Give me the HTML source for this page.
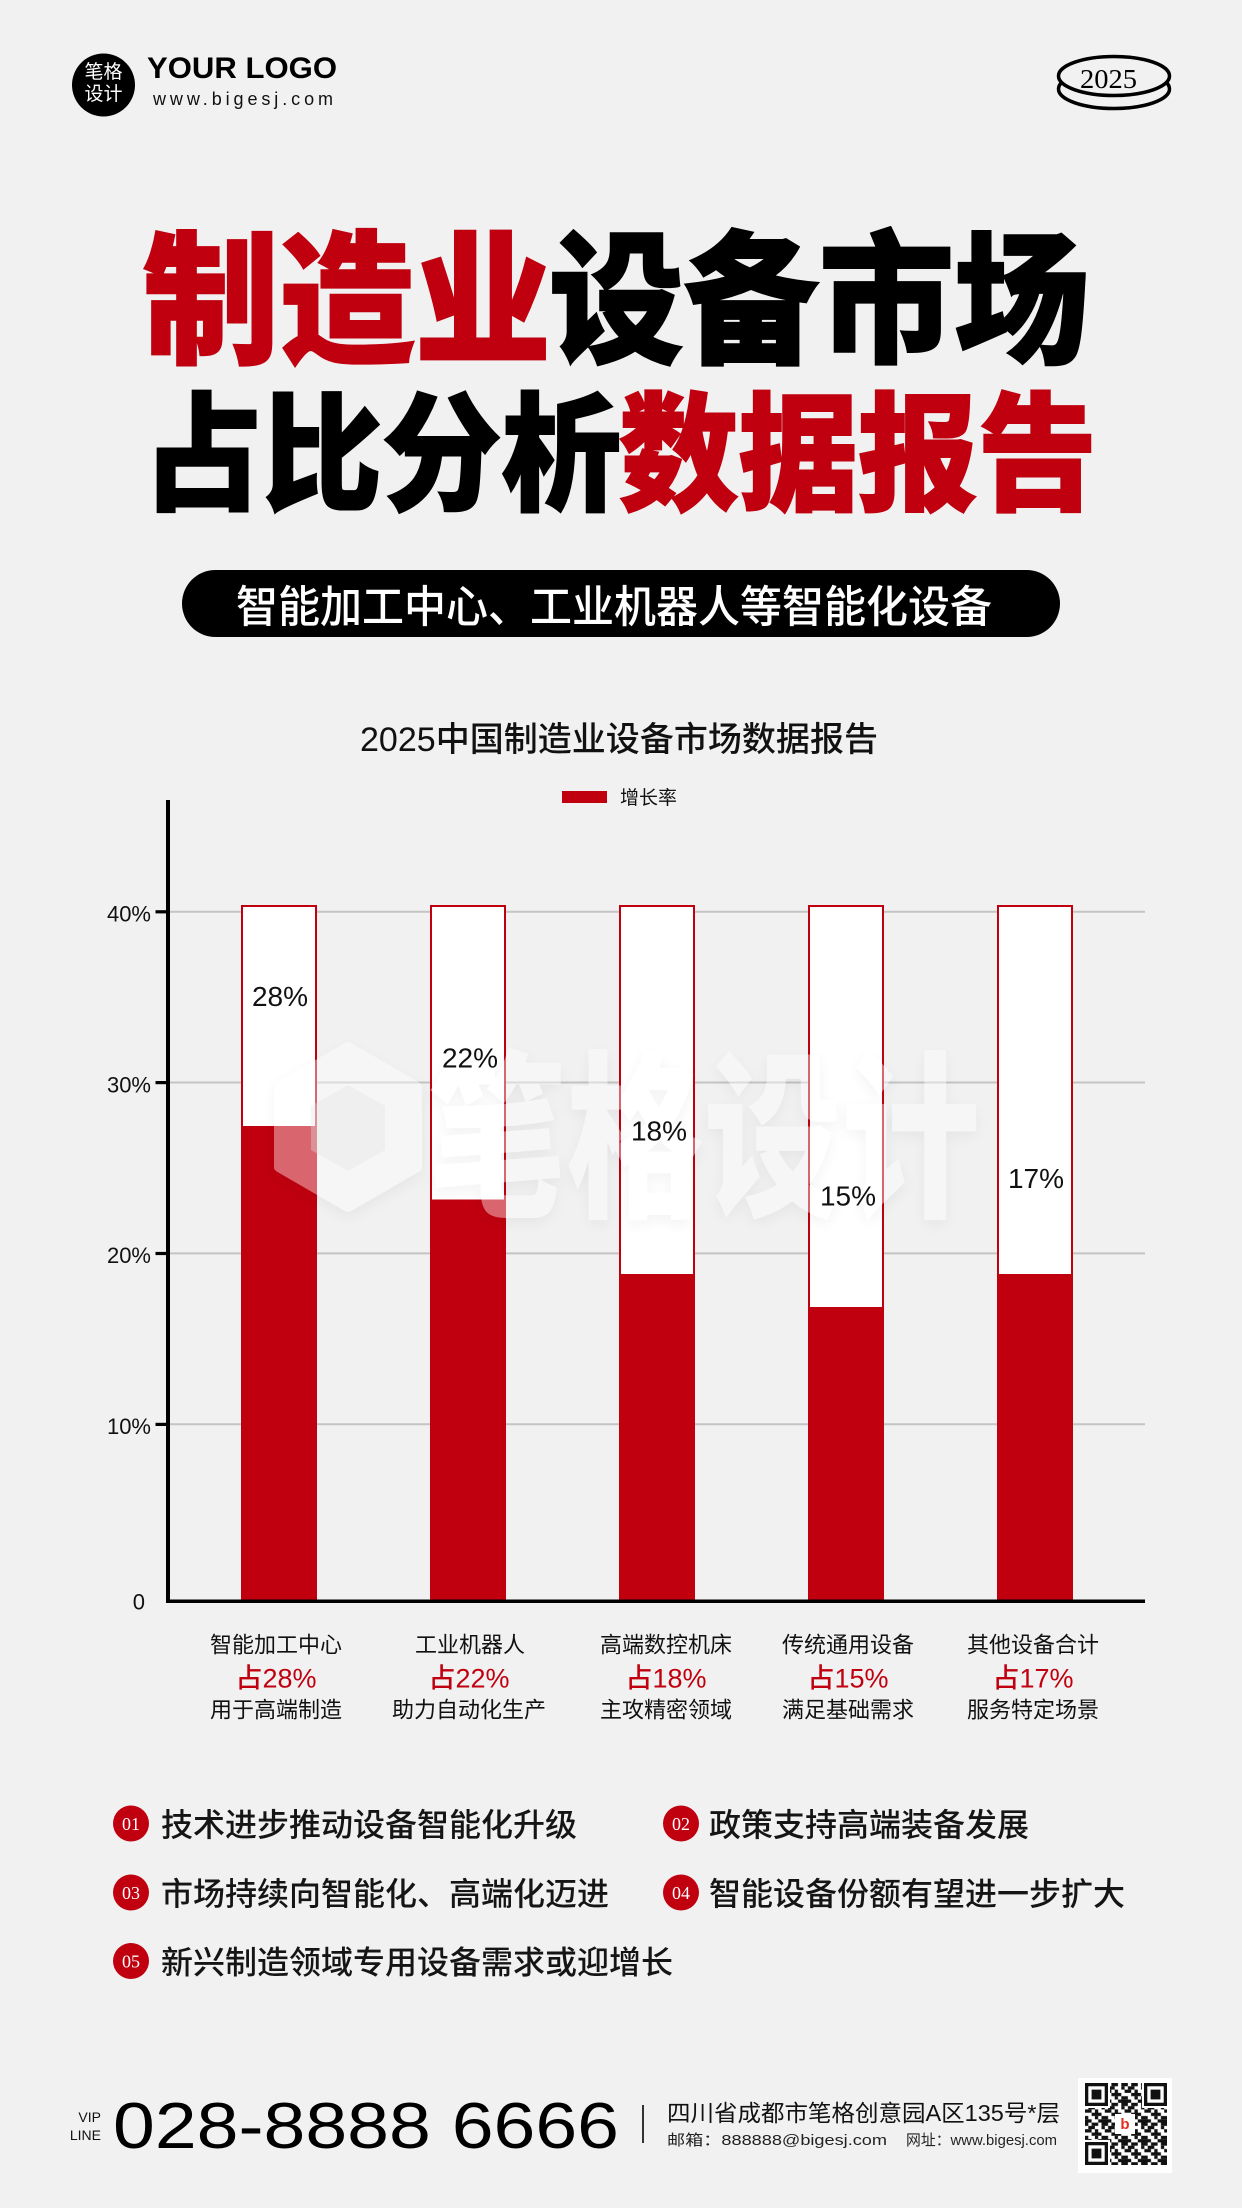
<!DOCTYPE html>
<html><head><meta charset="utf-8">
<style>
html,body{margin:0;padding:0;background:#f1f1f1;}
svg{display:block;}
text{font-family:"Liberation Sans","Noto Sans CJK SC",sans-serif;}
.serif{font-family:"Liberation Serif","Noto Serif CJK SC",serif;}
</style></head>
<body>
<svg width="1242" height="2208" viewBox="0 0 1242 2208" xmlns="http://www.w3.org/2000/svg">
<defs>
  <filter id="sh" x="-10%" y="-10%" width="120%" height="130%">
    <feDropShadow dx="0" dy="5" stdDeviation="7" flood-color="#000" flood-opacity="0.12"/>
  </filter>
  <pattern id="qr" x="1085" y="2083" width="19.8" height="19.8" patternUnits="userSpaceOnUse">
    <rect x="0" y="0" width="3.3" height="3.3" fill="#111"/>
    <rect x="6.6" y="0" width="6.6" height="3.3" fill="#111"/>
    <rect x="16.5" y="0" width="3.3" height="3.3" fill="#111"/>
    <rect x="3.3" y="3.3" width="6.6" height="3.3" fill="#111"/>
    <rect x="16.5" y="3.3" width="3.3" height="3.3" fill="#111"/>
    <rect x="0" y="6.6" width="6.6" height="3.3" fill="#111"/>
    <rect x="9.9" y="6.6" width="3.3" height="3.3" fill="#111"/>
    <rect x="6.6" y="9.9" width="9.9" height="3.3" fill="#111"/>
    <rect x="0" y="13.2" width="3.3" height="3.3" fill="#111"/>
    <rect x="9.9" y="13.2" width="3.3" height="3.3" fill="#111"/>
    <rect x="16.5" y="13.2" width="3.3" height="3.3" fill="#111"/>
    <rect x="0" y="16.5" width="6.6" height="3.3" fill="#111"/>
    <rect x="13.2" y="16.5" width="6.6" height="3.3" fill="#111"/>
  </pattern>
</defs>

<rect x="0" y="0" width="1242" height="2208" fill="#f1f1f1"/>

<!-- Logo -->
<circle cx="103.5" cy="85" r="31.5" fill="#000"/>
<text x="103.5" y="78" font-size="19" fill="#fff" text-anchor="middle">笔格</text>
<text x="103.5" y="100" font-size="19" fill="#fff" text-anchor="middle">设计</text>
<text x="147" y="78" font-size="30" font-weight="bold" fill="#000" textLength="190" lengthAdjust="spacingAndGlyphs">YOUR LOGO</text>
<text x="153" y="105" font-size="18" fill="#111" textLength="180" lengthAdjust="spacing">www.bigesj.com</text>

<!-- Coin -->
<ellipse cx="1114" cy="89" rx="55.5" ry="19.5" fill="#f1f1f1" stroke="#000" stroke-width="3.5"/>
<ellipse cx="1114" cy="76" rx="55.5" ry="19.5" fill="#f1f1f1" stroke="#000" stroke-width="3.5"/>
<text class="serif" x="1080" y="88" font-size="27" fill="#000" textLength="57" lengthAdjust="spacingAndGlyphs">2025</text>

<!-- Big title -->
<text x="143" y="352" font-size="144" font-weight="900" fill="#c0000f" stroke="#c0000f" stroke-width="2" textLength="408" lengthAdjust="spacingAndGlyphs">制造业</text>
<text x="549" y="352" font-size="144" font-weight="900" fill="#000" stroke="#000" stroke-width="2" textLength="540" lengthAdjust="spacingAndGlyphs">设备市场</text>
<text x="143" y="500" font-size="128" font-weight="900" fill="#000" stroke="#000" stroke-width="2" textLength="478" lengthAdjust="spacingAndGlyphs">占比分析</text>
<text x="619" y="500" font-size="128" font-weight="900" fill="#c0000f" stroke="#c0000f" stroke-width="2" textLength="478" lengthAdjust="spacingAndGlyphs">数据报告</text>

<!-- Pill -->
<rect x="182" y="570" width="878" height="67" rx="33.5" ry="33.5" fill="#000"/>
<text x="236" y="622" font-size="44" font-weight="500" fill="#fff" textLength="756" lengthAdjust="spacingAndGlyphs">智能加工中心、工业机器人等智能化设备</text>

<!-- Chart title & legend -->
<text x="360" y="751" font-size="34" font-weight="500" fill="#111" textLength="518" lengthAdjust="spacingAndGlyphs">2025中国制造业设备市场数据报告</text>
<rect x="562" y="791" width="45" height="12" fill="#c0000f"/>
<text x="620" y="804" font-size="19" fill="#111" textLength="57" lengthAdjust="spacingAndGlyphs">增长率</text>

<!-- Grid -->
<g stroke="#c4c4c4" stroke-width="2">
  <line x1="170" y1="911.7" x2="1145" y2="911.7"/>
  <line x1="170" y1="1082.5" x2="1145" y2="1082.5"/>
  <line x1="170" y1="1253.4" x2="1145" y2="1253.4"/>
  <line x1="170" y1="1424.3" x2="1145" y2="1424.3"/>
</g>

<!-- Bars -->
<g>
  <rect x="242" y="906" width="74" height="694" fill="#fff" stroke="#c0000f" stroke-width="2"/>
  <rect x="241" y="1126" width="76" height="474" fill="#c0000f"/>
  <rect x="431" y="906" width="74" height="694" fill="#fff" stroke="#c0000f" stroke-width="2"/>
  <rect x="430" y="1199.5" width="76" height="400.5" fill="#c0000f"/>
  <rect x="620" y="906" width="74" height="694" fill="#fff" stroke="#c0000f" stroke-width="2"/>
  <rect x="619" y="1274" width="76" height="326" fill="#c0000f"/>
  <rect x="809" y="906" width="74" height="694" fill="#fff" stroke="#c0000f" stroke-width="2"/>
  <rect x="808" y="1307" width="76" height="293" fill="#c0000f"/>
  <rect x="998" y="906" width="74" height="694" fill="#fff" stroke="#c0000f" stroke-width="2"/>
  <rect x="997" y="1274" width="76" height="326" fill="#c0000f"/>
</g>

<!-- Watermark -->
<g filter="url(#sh)" opacity="0.4">
  <path d="M348 1047 L417 1087 L417 1167 L348 1207 L279 1167 L279 1087 Z" fill="#fff" stroke="#fff" stroke-width="10" stroke-linejoin="round"/>
  <text x="428" y="1203" font-size="180" font-weight="900" fill="#fff" textLength="552" lengthAdjust="spacingAndGlyphs">笔格设计</text>
</g>
<path d="M348 1085 L385 1106 L385 1150 L348 1171 L311 1150 L311 1106 Z" fill="#e2e2e2" opacity="0.35"/>

<!-- Bar labels -->
<g font-size="28" fill="#111" text-anchor="middle">
  <text x="280" y="1006">28%</text>
  <text x="470" y="1067.5">22%</text>
  <text x="659" y="1140.5">18%</text>
  <text x="848" y="1205.5">15%</text>
  <text x="1036" y="1188">17%</text>
</g>

<!-- Axes -->
<rect x="166" y="800" width="4" height="803" fill="#000"/>
<rect x="166" y="1599.5" width="979" height="3.5" fill="#000"/>
<g fill="#000">
  <rect x="155.5" y="910.2" width="11" height="3.2"/>
  <rect x="155.5" y="1081" width="11" height="3.2"/>
  <rect x="155.5" y="1251.9" width="11" height="3.2"/>
  <rect x="155.5" y="1422.8" width="11" height="3.2"/>
</g>
<g font-size="22" fill="#111" text-anchor="end">
  <text x="151" y="921.5">40%</text>
  <text x="151" y="1092.3">30%</text>
  <text x="151" y="1263.2">20%</text>
  <text x="151" y="1434">10%</text>
  <text x="145" y="1609.5">0</text>
</g>

<!-- Category labels -->
<g font-size="22" fill="#111" text-anchor="middle">
  <text x="276" y="1652.5">智能加工中心</text>
  <text x="470" y="1652.5">工业机器人</text>
  <text x="666" y="1652.5">高端数控机床</text>
  <text x="848" y="1652.5">传统通用设备</text>
  <text x="1033" y="1652.5">其他设备合计</text>
  <text x="276" y="1717.5">用于高端制造</text>
  <text x="469" y="1717.5">助力自动化生产</text>
  <text x="666" y="1717.5">主攻精密领域</text>
  <text x="848" y="1717.5">满足基础需求</text>
  <text x="1033" y="1717.5">服务特定场景</text>
</g>
<g font-size="27" font-weight="500" fill="#c0000f" text-anchor="middle">
  <text x="276" y="1687.5">占28%</text>
  <text x="469" y="1687.5">占22%</text>
  <text x="666" y="1687.5">占18%</text>
  <text x="848" y="1687.5">占15%</text>
  <text x="1033" y="1687.5">占17%</text>
</g>

<!-- Bullets -->
<g fill="#c0000f">
  <circle cx="131" cy="1823.5" r="18"/>
  <circle cx="681" cy="1823.5" r="18"/>
  <circle cx="131" cy="1892.5" r="18"/>
  <circle cx="681" cy="1892.5" r="18"/>
  <circle cx="131" cy="1961" r="18"/>
</g>
<g font-size="18" fill="#fff" text-anchor="middle">
  <text class="serif" x="131" y="1830">01</text>
  <text class="serif" x="681" y="1830">02</text>
  <text class="serif" x="131" y="1899">03</text>
  <text class="serif" x="681" y="1899">04</text>
  <text class="serif" x="131" y="1967.5">05</text>
</g>
<g font-size="32" font-weight="500" fill="#151515">
  <text x="161" y="1836">技术进步推动设备智能化升级</text>
  <text x="709" y="1836">政策支持高端装备发展</text>
  <text x="161" y="1905">市场持续向智能化、高端化迈进</text>
  <text x="709" y="1905">智能设备份额有望进一步扩大</text>
  <text x="161" y="1973.5">新兴制造领域专用设备需求或迎增长</text>
</g>

<!-- Footer -->
<text x="101" y="2122" font-size="14" fill="#111" text-anchor="end">VIP</text>
<text x="101" y="2140" font-size="14" fill="#111" text-anchor="end">LINE</text>
<text x="113" y="2148" font-size="65" fill="#000" textLength="506" lengthAdjust="spacingAndGlyphs">028-8888 6666</text>
<rect x="642" y="2105" width="2" height="38" fill="#333"/>
<text x="667" y="2121" font-size="23" fill="#111" textLength="393" lengthAdjust="spacingAndGlyphs">四川省成都市笔格创意园A区135号*层</text>
<text x="667" y="2145" font-size="15" fill="#222" textLength="220" lengthAdjust="spacingAndGlyphs">邮箱：888888@bigesj.com</text>
<text x="906" y="2145" font-size="15" fill="#222" textLength="151" lengthAdjust="spacingAndGlyphs">网址：www.bigesj.com</text>

<!-- QR -->
<rect x="1078" y="2078" width="94" height="95" fill="#fff"/>
<rect x="1085" y="2083" width="82" height="82" fill="url(#qr)"/>
<g>
  <rect x="1083" y="2081" width="27" height="27" fill="#fff"/>
  <rect x="1085" y="2083" width="23" height="23" fill="#111"/>
  <rect x="1088.3" y="2086.3" width="16.4" height="16.4" fill="#fff"/>
  <rect x="1091.6" y="2089.6" width="9.8" height="9.8" fill="#111"/>
  <rect x="1142" y="2081" width="27" height="27" fill="#fff"/>
  <rect x="1144" y="2083" width="23" height="23" fill="#111"/>
  <rect x="1147.3" y="2086.3" width="16.4" height="16.4" fill="#fff"/>
  <rect x="1150.6" y="2089.6" width="9.8" height="9.8" fill="#111"/>
  <rect x="1083" y="2140" width="27" height="27" fill="#fff"/>
  <rect x="1085" y="2142" width="23" height="23" fill="#111"/>
  <rect x="1088.3" y="2145.3" width="16.4" height="16.4" fill="#fff"/>
  <rect x="1091.6" y="2148.6" width="9.8" height="9.8" fill="#111"/>
  <rect x="1115" y="2114" width="20" height="20" fill="#fff"/>
  <text x="1125" y="2129" font-size="15" font-weight="bold" fill="#e0301e" text-anchor="middle">b</text>
</g>
</svg>
</body></html>
